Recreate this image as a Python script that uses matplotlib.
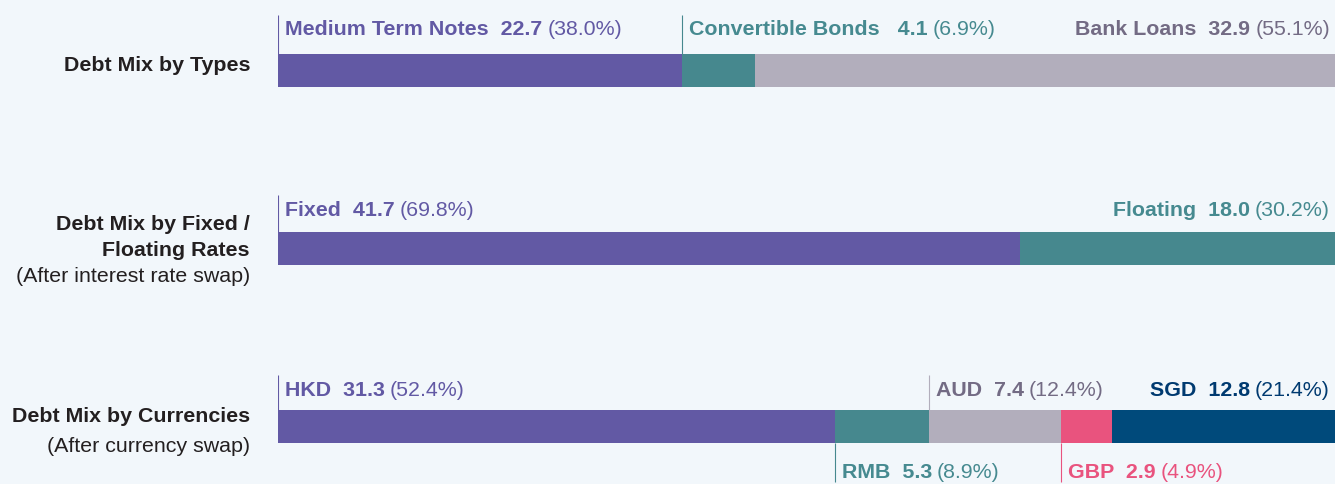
import matplotlib
matplotlib.use("Agg")
import matplotlib.pyplot as plt

plt.rcParams['font.family'] = ['Liberation Sans', 'DejaVu Sans']

# ---------------- data ----------------
row_titles = [
    [("Debt Mix by Types", "bold")],
    [("Debt Mix by Fixed /", "bold"), ("Floating Rates", "bold"), ("(After interest rate swap)", "normal")],
    [("Debt Mix by Currencies", "bold"), ("(After currency swap)", "normal")],
]

types_names = ["Medium Term Notes", "Convertible Bonds", "Bank Loans"]
types_values = [22.7, 4.1, 32.9]
types_pct = ["38.0%", "6.9%", "55.1%"]

rates_names = ["Fixed", "Floating"]
rates_values = [41.7, 18.0]
rates_pct = ["69.8%", "30.2%"]

cur_names = ["HKD", "RMB", "AUD", "GBP", "SGD"]
cur_values = [31.3, 5.3, 7.4, 2.9, 12.8]
cur_pct = ["52.4%", "8.9%", "12.4%", "4.9%", "21.4%"]

# ---------------- style ----------------
BG = "#F2F7FB"
PURPLE = "#6259A4"
TEAL = "#46888E"
GREY = "#B2AEBC"
PINK = "#E9537E"
NAVY = "#004A7B"
DARK = "#231F20"

types_colors = [PURPLE, TEAL, GREY]
types_text = [PURPLE, "#468A90", "#736B84"]
types_place = ["above-left", "above-left", "above-right"]
types_gap = ["  ", "   ", "  "]

rates_colors = [PURPLE, TEAL]
rates_text = [PURPLE, "#468A90"]
rates_place = ["above-left", "above-right"]
rates_gap = ["  ", "  "]

cur_colors = [PURPLE, TEAL, GREY, PINK, NAVY]
cur_text = [PURPLE, "#468A90", "#736B84", PINK, "#003A70"]
cur_place = ["above-left", "below-left", "above-left", "below-left", "above-right"]
cur_gap = ["  "] * 5

rows = [
    (types_names, types_values, types_pct, types_colors, types_text, types_place, types_gap),
    (rates_names, rates_values, rates_pct, rates_colors, rates_text, rates_place, rates_gap),
    (cur_names, cur_values, cur_pct, cur_colors, cur_text, cur_place, cur_gap),
]

# layout (pixel rows, y from top)
W, H = 1335, 484
bar_top = [54, 232, 410]
bar_h = 33
above_base = [35, 216, 396]
below_base = 478
line_top = [15, 195, 375]
line_bottom = 482
title_base = [[71], [229.5, 255.5, 281.5], [422.5, 451.5]]
FS = 15.4

fig = plt.figure(figsize=(W / 100, H / 100), dpi=100, facecolor=BG)
ax = fig.add_axes([278 / W, 0, (W - 278) / W, 1])
ax.set_facecolor(BG)
total = sum(types_values)
ax.set_xlim(0, total * (W - 278) / 1062)
ax.set_ylim(H, 0)
ax.axis("off")

for r, (names, vals, pcts, cols, tcols, places, gaps) in enumerate(rows):
    left = 0.0
    for name, v, p, c, tc, pl, g in zip(names, vals, pcts, cols, tcols, places, gaps):
        ax.barh(bar_top[r] + bar_h / 2, v, left=left, height=bar_h, color=c, linewidth=0)
        if pl == "above-left":
            ax.plot([left, left], [line_top[r], bar_top[r]], color=c, lw=0.8, solid_capstyle="butt")
            t = ax.annotate(f"{name}{g}{v:.1f}", xy=(left, above_base[r]), xytext=(7, 0),
                            textcoords="offset pixels", ha="left", va="baseline",
                            fontsize=FS, fontweight="bold", color=tc)
            ax.annotate(f"({p})", xy=(1, 0), xycoords=t, xytext=(5, 0),
                        textcoords="offset pixels", ha="left", va="bottom",
                        fontsize=FS, color=tc)
        elif pl == "below-left":
            ax.plot([left, left], [bar_top[r] + bar_h, line_bottom], color=c, lw=0.8,
                    solid_capstyle="butt", clip_on=False)
            t = ax.annotate(f"{name}{g}{v:.1f}", xy=(left, below_base), xytext=(7, 0),
                            textcoords="offset pixels", ha="left", va="baseline",
                            fontsize=FS, fontweight="bold", color=tc)
            ax.annotate(f"({p})", xy=(1, 0), xycoords=t, xytext=(5, 0),
                        textcoords="offset pixels", ha="left", va="bottom",
                        fontsize=FS, color=tc)
        else:  # above-right
            rt = ax.annotate(f"({p})", xy=(left + v, above_base[r]), xytext=(-10, 0),
                             textcoords="offset pixels", ha="right", va="baseline",
                             fontsize=FS, color=tc, annotation_clip=False)
            ax.annotate(f"{name}{g}{v:.1f}", xy=(0, 0), xycoords=rt, xytext=(-5, 0),
                        textcoords="offset pixels", ha="right", va="bottom",
                        fontsize=FS, fontweight="bold", color=tc)
        left += v

    for (txt, wt), yb in zip(row_titles[r], title_base[r]):
        ax.annotate(txt, xy=(0, yb), xytext=(-28, 0), textcoords="offset pixels",
                    ha="right", va="baseline", fontsize=FS, fontweight=wt,
                    color=DARK, annotation_clip=False)

fig.savefig("out.png", dpi=100, facecolor=BG)
